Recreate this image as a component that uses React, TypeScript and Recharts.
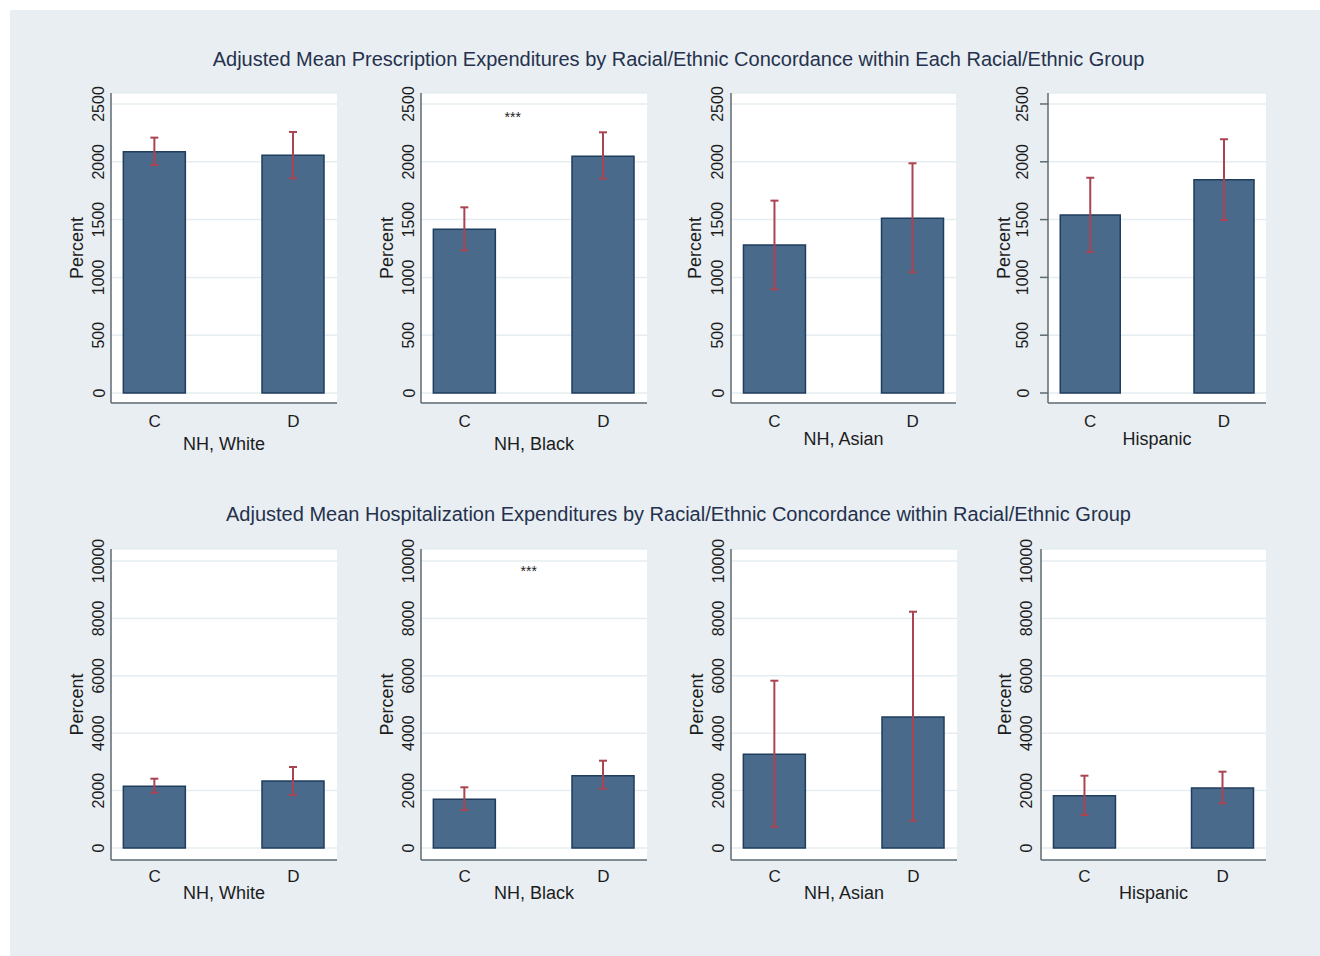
import React from "react";
import { BarChart, Bar, XAxis, YAxis, CartesianGrid, ErrorBar, ReferenceDot } from "recharts";

// ---------- data ----------
const categories = ["C", "D"];
const groups = ["NH, White", "NH, Black", "NH, Asian", "Hispanic"];

const rxTitle =
  "Adjusted Mean Prescription Expenditures by Racial/Ethnic Concordance within Each Racial/Ethnic Group";
const hospTitle =
  "Adjusted Mean Hospitalization Expenditures by Racial/Ethnic Concordance within Racial/Ethnic Group";

// prescription expenditures (per group: White, Black, Asian, Hispanic)
const rxMeanC = [2087, 1416, 1280, 1540];
const rxLowC = [1972, 1234, 897, 1220];
const rxHighC = [2209, 1606, 1664, 1862];
const rxMeanD = [2056, 2047, 1511, 1845];
const rxLowD = [1857, 1854, 1044, 1497];
const rxHighD = [2258, 2255, 1987, 2195];

// hospitalization expenditures
const hospMeanC = [2150, 1697, 3264, 1823];
const hospLowC = [1927, 1324, 742, 1150];
const hospHighC = [2415, 2115, 5829, 2519];
const hospMeanD = [2334, 2519, 4564, 2091];
const hospLowD = [1847, 2066, 951, 1557];
const hospHighD = [2822, 3042, 8233, 2659];

const rxTicks = [0, 500, 1000, 1500, 2000, 2500];
const hospTicks = [0, 2000, 4000, 6000, 8000, 10000];

const sigMarks = ["", "***", "", ""];
const rxSigPos = [1.347, 2388];
const hospSigPos = [1.462, 9662];

// ---------- layout / style ----------
const FONT = "'Liberation Sans', Arial, Helvetica, sans-serif";
const BG = "#e8eef2";
const BAR_FILL = "#4a6a8b";
const BAR_STROKE = "#1f3d5d";
const ERR = "#aa4452";
const AXIS = "#5f6a72";
const GRID = "#e6edf1";
const TEXT = "#1c1c1c";

const X_DOMAIN = [0.685, 2.315];

const topRow = {
  plotTop: 93,
  plotBottom: 403,
  domain: [-86.5, 2595],
  axisX: [111, 421, 731, 1048],
  plotRight: [337, 647, 956, 1266],
  xTickDy: 18,
  xTitleDy: [41, 41, 36, 36],
  yTickOff: [12, 12, 13, 25],
  percentOff: [34, 34, 36, 44],
  tickLine: [false, false, false, true],
};

const bottomRow = {
  plotTop: 549,
  plotBottom: 860,
  domain: [-418, 10418],
  axisX: [111, 421, 731, 1041],
  plotRight: [337, 647, 957, 1266],
  xTickDy: 16,
  xTitleDy: [33, 33, 33, 33],
  yTickOff: [12.5, 12.5, 12.5, 14],
  percentOff: [34, 34, 34, 36],
  tickLine: [false, false, false, false],
};

function buildData(meanC, lowC, highC, meanD, lowD, highD, g) {
  const means = [meanC[g], meanD[g]];
  const lows = [lowC[g], lowD[g]];
  const highs = [highC[g], highD[g]];
  return categories.map((c, k) => ({
    cat: c,
    pos: k + 1,
    mean: means[k],
    err: [means[k] - lows[k], highs[k] - means[k]],
  }));
}

function Panel({ row, i, data, ticks, sig, sigPos }) {
  const YW = 70;
  const MT = 10;
  const MR = 6;
  const XH = 60;
  const axisX = row.axisX[i];
  const plotW = row.plotRight[i] - axisX;
  const plotH = row.plotBottom - row.plotTop;
  const width = YW + plotW + MR;
  const height = MT + plotH + XH;
  const left = axisX - YW;
  const top = row.plotTop - MT;
  const barSize = Math.round(plotW * 0.275);

  const yTickX = YW - row.yTickOff[i];
  const percentX = YW - row.percentOff[i];
  const plotMidY = MT + plotH / 2;
  const axisY = MT + plotH;

  const renderYTick = (p) => (
    <text
      x={yTickX}
      y={p.y}
      transform={`rotate(-90 ${yTickX} ${p.y})`}
      textAnchor="middle"
      dominantBaseline="central"
      fontSize={16}
      fill={TEXT}
      fontFamily={FONT}
    >
      {p.payload.value}
    </text>
  );

  const renderXTick = (p) => (
    <text
      x={p.x}
      y={axisY + row.xTickDy}
      textAnchor="middle"
      dominantBaseline="central"
      fontSize={17}
      fill={TEXT}
      fontFamily={FONT}
    >
      {categories[p.payload.value - 1]}
    </text>
  );

  const renderXTitle = () => (
    <text
      x={YW + plotW / 2}
      y={axisY + row.xTitleDy[i]}
      textAnchor="middle"
      dominantBaseline="central"
      fontSize={18}
      fill={TEXT}
      fontFamily={FONT}
    >
      {groups[i]}
    </text>
  );

  const renderYTitle = () => (
    <text
      x={percentX}
      y={plotMidY}
      transform={`rotate(-90 ${percentX} ${plotMidY})`}
      textAnchor="middle"
      dominantBaseline="central"
      fontSize={18}
      fill={TEXT}
      fontFamily={FONT}
    >
      Percent
    </text>
  );

  return (
    <div style={{ position: "absolute", left, top, width, height }}>
      <BarChart width={width} height={height} data={data} margin={{ top: MT, right: MR, bottom: 0, left: 0 }}>
        <CartesianGrid vertical={false} fill="#ffffff" stroke={GRID} strokeWidth={1.5} />
        <XAxis
          type="number"
          dataKey="pos"
          domain={X_DOMAIN}
          ticks={[1, 2]}
          interval={0}
          allowDataOverflow
          height={XH}
          tickLine={false}
          tickSize={0}
          tickMargin={0}
          axisLine={{ stroke: AXIS, strokeWidth: 1.5 }}
          tick={renderXTick}
          label={renderXTitle}
        />
        <YAxis
          type="number"
          domain={row.domain}
          ticks={ticks}
          interval={0}
          allowDataOverflow
          width={YW}
          tickLine={row.tickLine[i] ? { stroke: AXIS, strokeWidth: 1.5 } : false}
          tickSize={row.tickLine[i] ? 8 : 0}
          tickMargin={0}
          axisLine={{ stroke: AXIS, strokeWidth: 1.5 }}
          tick={renderYTick}
          label={renderYTitle}
        />
        <Bar
          dataKey="mean"
          fill={BAR_FILL}
          stroke={BAR_STROKE}
          strokeWidth={1.5}
          barSize={barSize}
          isAnimationActive={false}
        >
          <ErrorBar dataKey="err" width={4} stroke={ERR} strokeWidth={2} direction="y" isAnimationActive={false} />
        </Bar>
        {sig ? (
          <ReferenceDot
            x={sigPos[0]}
            y={sigPos[1]}
            r={0}
            fill="none"
            stroke="none"
            ifOverflow="visible"
            label={{ value: sig, position: "center", fontSize: 14, fill: TEXT, fontFamily: FONT }}
          />
        ) : null}
      </BarChart>
    </div>
  );
}

export default function App() {
  return (
    <div
      style={{
        position: "absolute",
        left: 0,
        top: 0,
        width: 1320,
        height: 956,
        background: "#ffffff",
        fontFamily: FONT,
        overflow: "hidden",
      }}
    >
      <div style={{ position: "absolute", left: 10, top: 10, width: 1310, height: 946, background: BG }} />
      <div
        style={{
          position: "absolute",
          left: 78.5,
          width: 1200,
          top: 49,
          textAlign: "center",
          fontSize: 20,
          lineHeight: "20px",
          color: "#25314d",
          whiteSpace: "nowrap",
        }}
      >
        {rxTitle}
      </div>
      <div
        style={{
          position: "absolute",
          left: 78.5,
          width: 1200,
          top: 504,
          textAlign: "center",
          fontSize: 20,
          lineHeight: "20px",
          color: "#25314d",
          whiteSpace: "nowrap",
        }}
      >
        {hospTitle}
      </div>
      {groups.map((_, g) => (
        <Panel
          key={"rx" + g}
          row={topRow}
          i={g}
          data={buildData(rxMeanC, rxLowC, rxHighC, rxMeanD, rxLowD, rxHighD, g)}
          ticks={rxTicks}
          sig={sigMarks[g]}
          sigPos={rxSigPos}
        />
      ))}
      {groups.map((_, g) => (
        <Panel
          key={"hosp" + g}
          row={bottomRow}
          i={g}
          data={buildData(hospMeanC, hospLowC, hospHighC, hospMeanD, hospLowD, hospHighD, g)}
          ticks={hospTicks}
          sig={sigMarks[g]}
          sigPos={hospSigPos}
        />
      ))}
    </div>
  );
}
